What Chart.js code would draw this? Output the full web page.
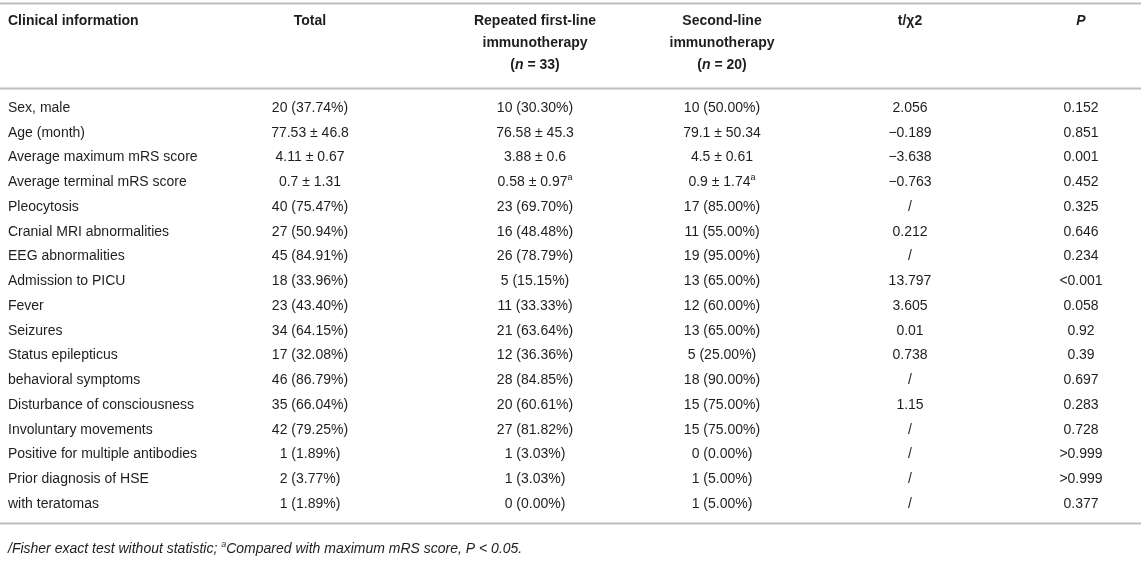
<!DOCTYPE html>
<html>
<head>
<meta charset="utf-8">
<script src="https://cdn.jsdelivr.net/npm/chart.js@4"></script>
<style>
  html, body { margin: 0; padding: 0; background: #fff; }
  #wrap { width: 1144px; height: 581px; }
</style>
</head>
<body>
<div id="wrap"><canvas id="table1"></canvas></div>
<script>
// table content
const headers = [
    ['Clinical information'],
    ['Total'],
    ['Repeated first-line', 'immunotherapy', '(n = 33)'],
    ['Second-line', 'immunotherapy', '(n = 20)'],
    ['t/\u03c72'],
    ['P']
];

const rowLabels = [
    'Sex, male', 'Age (month)', 'Average maximum mRS score', 'Average terminal mRS score',
    'Pleocytosis', 'Cranial MRI abnormalities', 'EEG abnormalities', 'Admission to PICU',
    'Fever', 'Seizures', 'Status epilepticus', 'behavioral symptoms',
    'Disturbance of consciousness', 'Involuntary movements', 'Positive for multiple antibodies',
    'Prior diagnosis of HSE', 'with teratomas'
];

const totalCol = [
    '20 (37.74%)', '77.53 \u00b1 46.8', '4.11 \u00b1 0.67', '0.7 \u00b1 1.31',
    '40 (75.47%)', '27 (50.94%)', '45 (84.91%)', '18 (33.96%)', '23 (43.40%)',
    '34 (64.15%)', '17 (32.08%)', '46 (86.79%)', '35 (66.04%)', '42 (79.25%)',
    '1 (1.89%)', '2 (3.77%)', '1 (1.89%)'
];

const firstLineCol = [
    '10 (30.30%)', '76.58 \u00b1 45.3', '3.88 \u00b1 0.6', '0.58 \u00b1 0.97^a',
    '23 (69.70%)', '16 (48.48%)', '26 (78.79%)', '5 (15.15%)', '11 (33.33%)',
    '21 (63.64%)', '12 (36.36%)', '28 (84.85%)', '20 (60.61%)', '27 (81.82%)',
    '1 (3.03%)', '1 (3.03%)', '0 (0.00%)'
];

const secondLineCol = [
    '10 (50.00%)', '79.1 \u00b1 50.34', '4.5 \u00b1 0.61', '0.9 \u00b1 1.74^a',
    '17 (85.00%)', '11 (55.00%)', '19 (95.00%)', '13 (65.00%)', '12 (60.00%)',
    '13 (65.00%)', '5 (25.00%)', '18 (90.00%)', '15 (75.00%)', '15 (75.00%)',
    '0 (0.00%)', '1 (5.00%)', '1 (5.00%)'
];

const statCol = [
    '2.056', '\u22120.189', '\u22123.638', '\u22120.763', '/', '0.212', '/', '13.797',
    '3.605', '0.01', '0.738', '/', '1.15', '/', '/', '/', '/'
];

const pCol = [
    '0.152', '0.851', '0.001', '0.452', '0.325', '0.646', '0.234', '<0.001',
    '0.058', '0.92', '0.39', '0.697', '0.283', '0.728', '>0.999', '>0.999', '0.377'
];

const footnote = '/Fisher exact test without statistic; ^aCompared with maximum mRS score, P < 0.05.';

// layout (pixel x of each column on a 0..1144 scale, row index on y)
const colX = [8, 310, 535, 722, 910, 1081];
const colAlign = ['left', 'center', 'center', 'center', 'center', 'center'];
const FONT = '"Liberation Sans", Arial, sans-serif';
const TEXT = '#1e1e1e';
const RULE = '#bdbdbd';

const columns = [rowLabels, totalCol, firstLineCol, secondLineCol, statCol, pCol];

// draws "text^a" with a small raised a
function drawRich(ctx, str, x, y, align, size, style) {
    let parts = str.split('^a');
    let main = style + ' ' + size + 'px ' + FONT;
    let sup = style + ' ' + Math.round(size * 0.65) + 'px ' + FONT;
    let pieces = [];
    for (let i = 0; i < parts.length; i++) {
        if (i > 0) pieces.push({t: 'a', f: sup, dy: -size * 0.35});
        if (parts[i]) pieces.push({t: parts[i], f: main, dy: 0});
    }
    let w = 0;
    pieces.forEach(p => { ctx.font = p.f; p.w = ctx.measureText(p.t).width; w += p.w; });
    let start = align === 'left' ? x : (align === 'center' ? x - w / 2 : x - w);
    ctx.textAlign = 'left';
    pieces.forEach(p => {
        ctx.font = p.f;
        ctx.fillText(p.t, start, y + p.dy);
        start += p.w;
    });
}

const tablePlugin = {
    id: 'tablePlugin',
    afterDraw(chart) {
        const ctx = chart.ctx;
        const xs = chart.scales.x;
        const ys = chart.scales.y;
        ctx.save();
        ctx.textBaseline = 'middle';
        ctx.fillStyle = TEXT;

        // rules
        ctx.strokeStyle = RULE;
        ctx.lineWidth = 2;
        [-4.24, -0.81, 16.77].forEach(r => {
            let py = Math.round(ys.getPixelForValue(r)) + 0.5;
            ctx.beginPath();
            ctx.moveTo(xs.getPixelForValue(0), py);
            ctx.lineTo(xs.getPixelForValue(1141), py);
            ctx.stroke();
        });

        // header (three lines max)
        const headRows = [-3.515, -2.626, -1.737];
        headers.forEach((lines, c) => {
            lines.forEach((line, k) => {
                let px = xs.getPixelForValue(colX[c]);
                let py = ys.getPixelForValue(headRows[k]);
                if (line.indexOf('n = ') >= 0) {
                    // italic n
                    ctx.font = 'bold 14px ' + FONT;
                    let a = '(', b = 'n', rest = ' = ' + line.slice(5);
                    let wa = ctx.measureText(a).width;
                    let wr = ctx.measureText(rest).width;
                    ctx.font = 'italic bold 14px ' + FONT;
                    let wb = ctx.measureText(b).width;
                    let s = px - (wa + wb + wr) / 2;
                    ctx.textAlign = 'left';
                    ctx.font = 'bold 14px ' + FONT;
                    ctx.fillText(a, s, py);
                    ctx.font = 'italic bold 14px ' + FONT;
                    ctx.fillText(b, s + wa, py);
                    ctx.font = 'bold 14px ' + FONT;
                    ctx.fillText(rest, s + wa + wb, py);
                } else {
                    let style = line === 'P' ? 'italic bold' : 'bold';
                    drawRich(ctx, line, px, py, colAlign[c], 14, style);
                }
            });
        });

        // body cells
        columns.forEach((col, c) => {
            col.forEach((val, r) => {
                drawRich(ctx, val, xs.getPixelForValue(colX[c]), ys.getPixelForValue(r),
                    colAlign[c], 14, 'normal');
            });
        });

        // footnote
        drawRich(ctx, footnote, xs.getPixelForValue(8), ys.getPixelForValue(17.82),
            'left', 14, 'italic');
        ctx.restore();
    }
};

const chartTable1 = new Chart(document.getElementById('table1'), {
    type: 'scatter',
    data: { datasets: [{ data: [] }] },
    options: {
        responsive: true,
        maintainAspectRatio: false,
        animation: false,
        layout: { padding: 0 },
        plugins: { legend: { display: false }, tooltip: { enabled: false } },
        scales: {
            x: { type: 'linear', min: 0, max: 1144, display: false },
            y: { type: 'linear', min: -4.3636, max: 19.1111, reverse: true, display: false }
        }
    },
    plugins: [tablePlugin]
});
</script>
</body>
</html>
